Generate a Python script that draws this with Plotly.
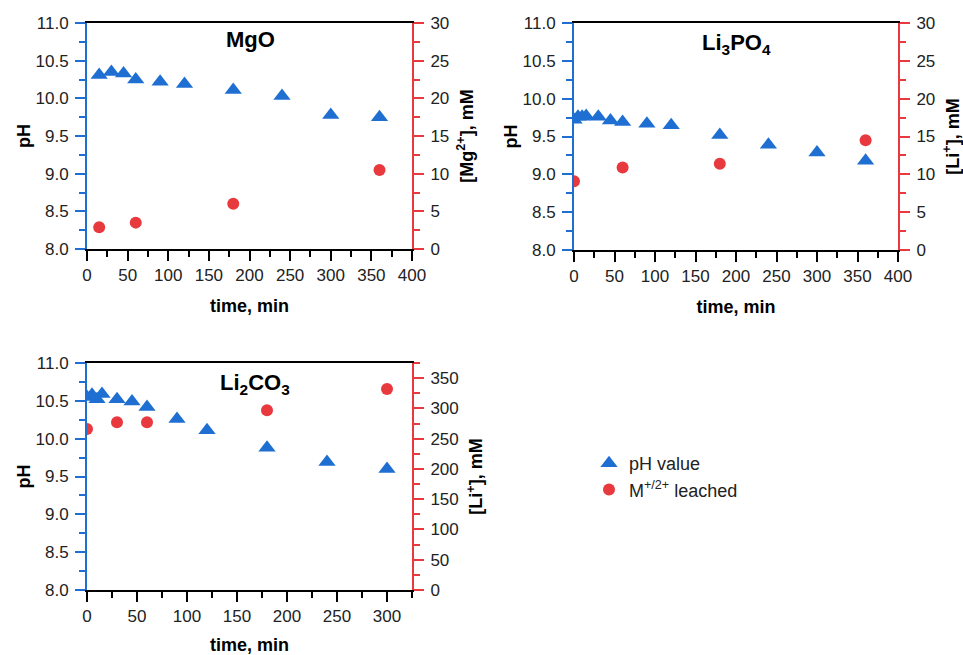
import plotly.graph_objects as go

# ---- data -------------------------------------------------------------
mgo_t_ph = [15, 30, 45, 60, 90, 120, 180, 240, 300, 360]
mgo_ph = [10.31, 10.35, 10.33, 10.25, 10.22, 10.19, 10.11, 10.03, 9.78, 9.75]
mgo_t_ion = [15, 60, 180, 360]
mgo_ion = [2.9, 3.5, 6.0, 10.5]

lp_t_ph = [0, 5, 10, 15, 30, 45, 60, 90, 120, 180, 240, 300, 360]
lp_ph = [9.72, 9.76, 9.76, 9.77, 9.76, 9.71, 9.69, 9.67, 9.65, 9.52, 9.39, 9.29, 9.18]
lp_t_ion = [0, 60, 180, 360]
lp_ion = [9.1, 10.9, 11.4, 14.5]

lc_t_ph = [0, 5, 10, 15, 30, 45, 60, 90, 120, 180, 240, 300]
lc_ph = [10.55, 10.58, 10.52, 10.59, 10.52, 10.49, 10.42, 10.26, 10.11, 9.88, 9.69, 9.60]
lc_t_ion = [0, 30, 60, 180, 300]
lc_ion = [266, 277, 277, 297, 332]

panel_titles = ["MgO", "Li<sub>3</sub>PO<sub>4</sub>", "Li<sub>2</sub>CO<sub>3</sub>"]
ion_titles = ["[Mg<sup>2+</sup>], mM", "[Li<sup>+</sup>], mM", "[Li<sup>+</sup>], mM"]
legend_names = ["pH value", "M<sup>+/2+</sup> leached"]

# ---- style ------------------------------------------------------------
BLUE = "#1f6fd3"
RED = "#e8393e"
FONT = "Arial, Liberation Sans, sans-serif"
TICKC = "#222222"
TICK_SIZE = 17
TITLE_SIZE = 18

W, H = 963, 655


def px_x(a, b):
    return [a / W, b / W]


def px_y(top, bottom):
    return [1 - bottom / H, 1 - top / H]


panels = [
    dict(x=px_x(87, 412), y=px_y(23, 249), xr=[0, 400], ion_r=[0, 30], ion_dt=5),
    dict(x=px_x(574, 898), y=px_y(23, 250), xr=[0, 400], ion_r=[0, 30], ion_dt=5),
    dict(x=px_x(87, 412), y=px_y(363, 590), xr=[0, 325], ion_r=[0, 375], ion_dt=50),
]

data = [
    (mgo_t_ph, mgo_ph, mgo_t_ion, mgo_ion),
    (lp_t_ph, lp_ph, lp_t_ion, lp_ion),
    (lc_t_ph, lc_ph, lc_t_ion, lc_ion),
]

fig = go.Figure()
layout = {}

for i, (p, (tp, ph, ti, ion)) in enumerate(zip(panels, data)):
    xa = "x" if i == 0 else f"x{i + 1}"
    ya_l = "y" if i == 0 else f"y{2 * i + 1}"
    ya_r = f"y{2 * i + 2}"
    xkey = "xaxis" if i == 0 else f"xaxis{i + 1}"
    ylkey = "yaxis" if i == 0 else f"yaxis{2 * i + 1}"
    yrkey = f"yaxis{2 * i + 2}"

    fig.add_trace(go.Scatter(
        x=tp, y=ph, xaxis=xa, yaxis=ya_l, mode="markers",
        marker=dict(symbol="triangle-up", size=15, color=BLUE),
        name=legend_names[0], showlegend=(i == 0), legendrank=1,
    ))
    fig.add_trace(go.Scatter(
        x=ti, y=ion, xaxis=xa, yaxis=ya_r, mode="markers",
        marker=dict(symbol="circle", size=12, color=RED),
        name=legend_names[1], showlegend=(i == 0), legendrank=2,
    ))

    layout[xkey] = dict(
        domain=p["x"], anchor=ya_l, range=p["xr"], dtick=50, tick0=0, automargin=False,
        showline=True, linecolor="black", linewidth=2, mirror=True,
        ticks="outside", ticklen=10, tickwidth=2, tickcolor="black",
        minor=dict(dtick=25, ticks="outside", ticklen=6, tickwidth=2, tickcolor="black"),
        showgrid=False, zeroline=False,
        tickfont=dict(family=FONT, size=TICK_SIZE, color=TICKC), ticklabelstandoff=0,
        title=dict(text="<b>time, min</b>", font=dict(family=FONT, size=TITLE_SIZE, color="black"), standoff=15),
    )
    layout[ylkey] = dict(
        domain=p["y"], anchor=xa, range=[8, 11], dtick=0.5, tick0=8, tickformat=".1f",
        automargin=False,
        showline=True, linecolor=BLUE, linewidth=2,
        ticks="outside", ticklen=10, tickwidth=2, tickcolor=BLUE,
        minor=dict(dtick=0.25, ticks="outside", ticklen=6, tickwidth=2, tickcolor=BLUE),
        showgrid=False, zeroline=False,
        tickfont=dict(family=FONT, size=TICK_SIZE, color=TICKC), ticklabelstandoff=3,
        title=dict(text="<b>pH</b>", font=dict(family=FONT, size=TITLE_SIZE, color="black"), standoff=0),
    )
    layout[yrkey] = dict(
        overlaying=ya_l, anchor=xa, side="right", automargin=False,
        range=p["ion_r"], dtick=p["ion_dt"], tick0=0,
        showline=True, linecolor=RED, linewidth=2,
        ticks="outside", ticklen=10, tickwidth=2, tickcolor=RED,
        minor=dict(dtick=p["ion_dt"] / 2, ticks="outside", ticklen=6, tickwidth=2, tickcolor=RED),
        showgrid=False, zeroline=False,
        tickfont=dict(family=FONT, size=TICK_SIZE, color=TICKC), ticklabelstandoff=3,
        title=dict(text=f"<b>{ion_titles[i]}</b>", font=dict(family=FONT, size=TITLE_SIZE, color="black"), standoff=12),
    )

annotations = []
title_pos = [(250, 40), (736, 44), (255, 384)]
for t, (ax, ay) in zip(panel_titles, title_pos):
    annotations.append(dict(
        text=f"<b>{t}</b>", x=ax / W, y=1 - ay / H, xref="paper", yref="paper",
        showarrow=False, font=dict(family=FONT, size=22, color="black"),
        xanchor="center", yanchor="middle",
    ))

fig.update_layout(
    width=W, height=H,
    margin=dict(l=0, r=0, t=0, b=0, autoexpand=False),
    paper_bgcolor="white", plot_bgcolor="white",
    annotations=annotations,
    showlegend=True,
    legend=dict(
        x=589 / W, y=1 - 445 / H, xanchor="left", yanchor="top",
        font=dict(family=FONT, size=18, color="#222222"),
        bgcolor="rgba(0,0,0,0)", itemwidth=30, tracegroupgap=0,
    ),
    **layout,
)

fig.write_html("out.html")
